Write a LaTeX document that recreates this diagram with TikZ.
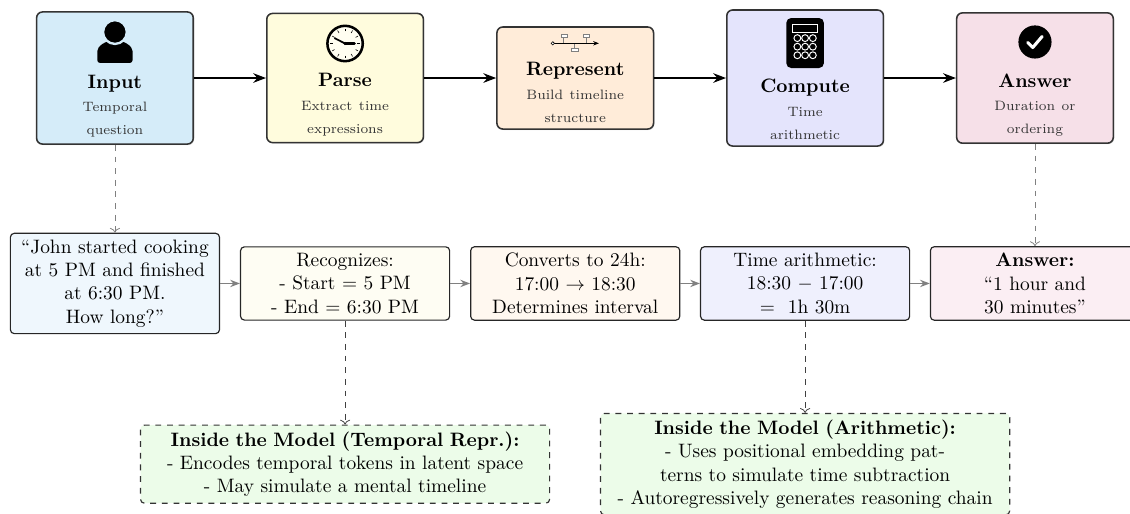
\documentclass[tikz,border=0pt]{standalone}
\usepackage{amsmath}
\usepackage{amssymb}
\usetikzlibrary{arrows.meta,shadows}
\definecolor{inputfill}{RGB}{213,236,249}
\definecolor{parsefill}{RGB}{255,252,221}
\definecolor{reprfill}{RGB}{255,236,217}
\definecolor{computefill}{RGB}{228,228,252}
\definecolor{answerfill}{RGB}{246,224,232}
\definecolor{inputlight}{RGB}{239,247,253}
\definecolor{parselight}{RGB}{254,253,243}
\definecolor{reprlight}{RGB}{255,248,240}
\definecolor{computelight}{RGB}{239,240,253}
\definecolor{answerlight}{RGB}{251,238,243}
\definecolor{modelfill}{RGB}{236,252,233}
\newcommand{\iconroom}[1]{\rule{0pt}{#1}}
\newcommand{\subline}[1]{{\scriptsize\color{black!80}#1}}

\begin{document}
\begin{tikzpicture}[
                stage/.style={draw=black!80, thick, rounded corners=3pt, text width=2.6cm, align=center,
                              drop shadow={shadow xshift=0.5pt, shadow yshift=-0.5pt, opacity=0.25}},
                midbox/.style={draw=black!85, semithick, rounded corners=2pt, text width=3.55cm, align=center},
                modelbox/.style={draw=black!80, semithick, dashed, rounded corners=2pt, fill=modelfill,
                                 text width=7.17cm, align=center},
                flow/.style={-Stealth, thick},
                midflow/.style={-{Stealth[length=5pt]}, thick, gray},
                godown/.style={->, dashed, gray},
                probe/.style={->, dashed, black!75}]
                \useasboundingbox (0,0) rectangle (20.45,-9.30);

                \node[stage, fill=inputfill]   (input)     at (2.08,-1.412)  {\iconroom{24pt}\\\textbf{Input}\\\subline{Temporal}\\\subline{question}};
                \node[stage, fill=parsefill]   (parse)     at (6.245,-1.412) {\iconroom{22.5pt}\\\textbf{Parse}\\\subline{Extract time}\\\subline{expressions}};
                \node[stage, fill=reprfill]    (represent) at (10.41,-1.412) {\iconroom{9.8pt}\\\textbf{Represent}\\\subline{Build timeline}\\\subline{structure}};
                \node[stage, fill=computefill] (compute)   at (14.57,-1.412) {\iconroom{27.3pt}\\\textbf{Compute}\\\subline{Time}\\\subline{arithmetic}};
                \node[stage, fill=answerfill]  (answer)    at (18.73,-1.412) {\iconroom{23pt}\\\textbf{Answer}\\\subline{Duration or}\\\subline{ordering}};

                \fill[rounded corners=1.5pt] (1.76,-1.14) -- (1.76,-0.98) arc[start angle=180, end angle=0, x radius=0.32, y radius=0.25] -- (2.40,-1.14) -- cycle;
                \filldraw[fill=black, draw=inputfill, line width=1.2pt] (2.08,-0.58) circle (0.215);

                \filldraw[fill=white!60!parsefill, line width=1.3pt] (6.245,-0.787) circle (0.32);
                \foreach \a in {0,30,...,330}
                    \draw[shift={(6.245,-0.787)}, line width=0.3pt] (\a:0.22) -- (\a:0.27);
                \draw[shift={(6.245,-0.787)}, line width=0.9pt, line cap=round] (0,0) -- (153:0.21);
                \draw[shift={(6.245,-0.787)}, line width=1.4pt, line cap=round] (0,0) -- (0:0.17);
                \fill (6.245,-0.787) circle (0.03);

                \draw[gray, line width=0.3pt] (10.20,-0.784) -- (10.20,-0.675);
                \draw[gray, line width=0.3pt] (10.61,-0.784) -- (10.61,-0.675);
                \draw[gray, line width=0.3pt] (10.40,-0.784) -- (10.40,-0.881);
                \draw[gray, fill=white, line width=0.3pt] (10.15,-0.621) rectangle (10.26,-0.675);
                \draw[gray, fill=white, line width=0.3pt] (10.55,-0.621) rectangle (10.67,-0.675);
                \draw[gray, fill=white, line width=0.3pt] (10.34,-0.881) rectangle (10.47,-0.935);
                \draw[-{Stealth[length=3pt]}, line width=0.8pt] (10.03,-0.784) -- (10.84,-0.784);
                \draw[fill=white, line width=0.3pt] (10.004,-0.784) circle (0.03);

                \fill[rounded corners=2.5pt] (14.23,-0.326) rectangle (14.91,-1.231);
                \draw[white, line width=0.5pt] (14.35,-0.45) rectangle (14.79,-0.58);
                \foreach \i in {14.43,14.57,14.71}
                    \foreach \j in {-0.69,-0.845,-1.0}
                        \draw[white, line width=0.5pt] (\i,\j) circle (0.062);

                \fill (18.73,-0.76) circle (0.30);
                \draw[white, line width=1.6pt, line cap=round, line join=round] (18.60,-0.77) -- (18.69,-0.86) -- (18.86,-0.66);

                \node[midbox, fill=inputlight]   (question) at (2.08,-5.13)  {``John started cooking\\at 5 PM and finished\\at 6:30 PM.\\How long?''};
                \node[midbox, fill=parselight]   (recog)    at (6.245,-5.13) {Recognizes:\\- Start $=$ 5 PM\\- End $=$ 6:30 PM};
                \node[midbox, fill=reprlight]    (convert)  at (10.41,-5.13) {Converts to 24h:\\17:00 $\rightarrow$ 18:30\\Determines interval};
                \node[midbox, fill=computelight] (arith)    at (14.57,-5.13) {Time arithmetic:\\18:30 $-$ 17:00\\$=$ \ 1h 30m};
                \node[midbox, fill=answerlight]  (result)   at (18.73,-5.13) {\textbf{Answer:}\\``1 hour and\\30 minutes''};

                \node[modelbox] (tempmodel)  at (6.245,-8.40) {\textbf{Inside the Model (Temporal Repr.):}\\- Encodes temporal tokens in latent space\\- May simulate a mental timeline};
                \node[modelbox] (arithmodel) at (14.57,-8.40) {\textbf{Inside the Model (Arithmetic):}\\- Uses positional embedding pat-\\terns to simulate time subtraction\\- Autoregressively generates reasoning chain};

                \draw[flow] (input) -- (parse);
                \draw[flow] (parse) -- (represent);
                \draw[flow] (represent) -- (compute);
                \draw[flow] (compute) -- (answer);

                \draw[midflow] (question) -- (recog);
                \draw[midflow] (recog) -- (convert);
                \draw[midflow] (convert) -- (arith);
                \draw[midflow] (arith) -- (result);

                \draw[godown] (input) -- (question);
                \draw[godown] (answer) -- (result);
                \draw[probe] (recog) -- (tempmodel);
                \draw[probe] (arith) -- (arithmodel);
            \end{tikzpicture}
\end{document}
